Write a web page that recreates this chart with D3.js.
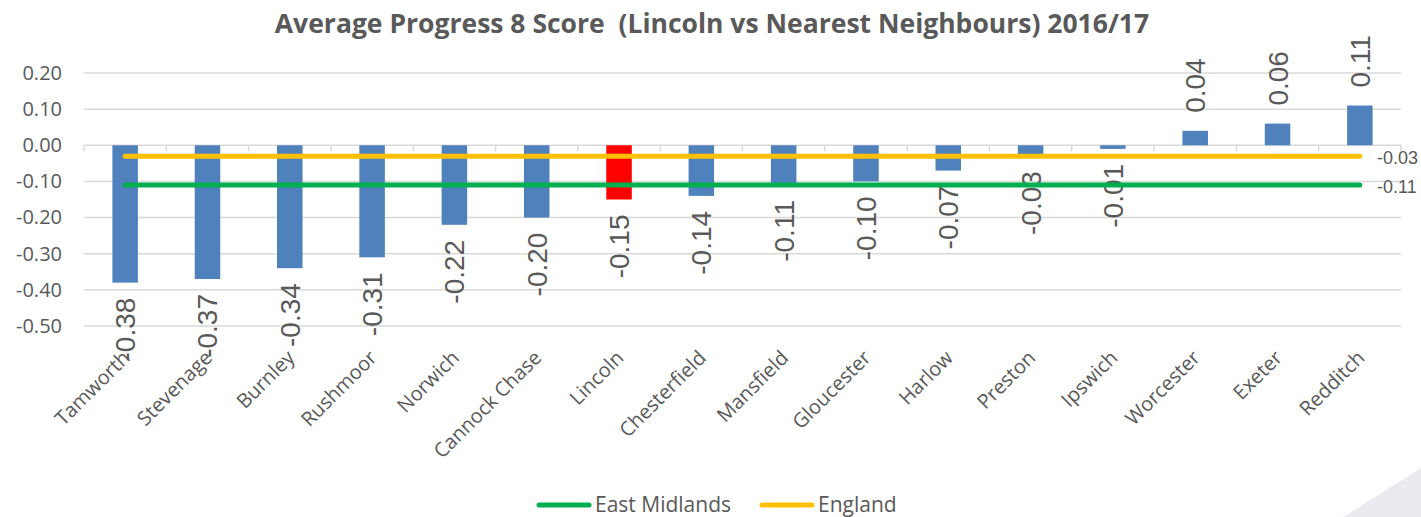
<!DOCTYPE html>
<html>
<head>
<meta charset="utf-8">
<script src="https://cdn.jsdelivr.net/npm/d3@7"></script>
<style>
  body { margin: 0; background: #fff; }
  text { font-family: "Open Sans", sans-serif; }
</style>
</head>
<body>
<div id="chart"></div>
<script>
const areas = ["Tamworth", "Stevenage", "Burnley", "Rushmoor", "Norwich", "Cannock Chase", "Lincoln",
  "Chesterfield", "Mansfield", "Gloucester", "Harlow", "Preston", "Ipswich", "Worcester", "Exeter", "Redditch"];
const scores = [-0.38, -0.37, -0.34, -0.31, -0.22, -0.20, -0.15, -0.14, -0.11, -0.10, -0.07, -0.03, -0.01, 0.04, 0.06, 0.11];
const eastMidlands = -0.11;
const england = -0.03;
const yTicks = [0.2, 0.1, 0, -0.1, -0.2, -0.3, -0.4, -0.5];
const highlight = "Lincoln";

const width = 1421, height = 517;
const fmt = v => d3.format(".2f")(v).replace("−", "-");

const svg = d3.select("#chart").append("svg")
  .attr("width", width)
  .attr("height", height);

// slide corner decoration
svg.append("polygon")
  .attr("points", `${width},468 ${width},${height} 1343,${height}`)
  .attr("fill", "#ebebef");

const x = d3.scaleBand().domain(areas).range([84, 1401]);
const y = d3.scaleLinear().domain([-0.5, 0.2]).range([326, 73]);

svg.append("text")
  .attr("x", 712)
  .attr("y", 33)
  .attr("text-anchor", "middle")
  .style("font-size", "26.5px")
  .style("font-weight", "bold")
  .style("fill", "#595959")
  .style("white-space", "pre")
  .text("Average Progress 8 Score  (Lincoln vs Nearest Neighbours) 2016/17");

// gridlines
svg.append("g")
  .selectAll("line")
  .data(yTicks)
  .join("line")
  .attr("x1", 84).attr("x2", 1401)
  .attr("y1", d => y(d)).attr("y2", d => y(d))
  .attr("stroke", "#d9d9d9")
  .attr("stroke-width", 1.5);

const yAxis = svg.append("g")
  .attr("transform", `translate(62,0)`)
  .call(d3.axisLeft(y).tickValues(yTicks).tickFormat(fmt).tickSize(0).tickPadding(0));
yAxis.select(".domain").remove();
yAxis.selectAll("text")
  .style("font-size", "20px")
  .style("fill", "#595959")
  .style("font-family", "Open Sans, sans-serif");

// category ticks along zero line
const bounds = areas.map(a => x(a)).concat([x.range()[1]]);
svg.append("g")
  .selectAll("line")
  .data(bounds)
  .join("line")
  .attr("x1", d => d).attr("x2", d => d)
  .attr("y1", y(0)).attr("y2", y(0) + 6)
  .attr("stroke", "#d9d9d9")
  .attr("stroke-width", 1.5);

const barW = x.bandwidth() * 0.31;

svg.append("g")
  .selectAll("rect")
  .data(areas)
  .join("rect")
  .attr("x", d => x(d) + x.bandwidth() / 2 - barW / 2)
  .attr("y", (d, i) => y(Math.max(0, scores[i])))
  .attr("width", barW)
  .attr("height", (d, i) => Math.abs(y(scores[i]) - y(0)))
  .attr("fill", d => d === highlight ? "#ff0000" : "#4f81bd");

// value labels
svg.append("g")
  .selectAll("text")
  .data(areas)
  .join("text")
  .attr("transform", (d, i) => {
    const cx = x(d) + x.bandwidth() / 2 + 10;
    const v = scores[i];
    const yy = v < 0 ? y(v) + 15 : y(v) - 18;
    return `translate(${cx},${yy}) rotate(-90)`;
  })
  .attr("text-anchor", (d, i) => scores[i] < 0 ? "end" : "start")
  .style("font-family", "Liberation Sans, Arial, sans-serif")
  .style("font-size", "28px")
  .style("fill", "#595959")
  .text((d, i) => fmt(scores[i]));

// reference lines
const refs = [
  { name: "East Midlands", value: eastMidlands, color: "#00b050" },
  { name: "England", value: england, color: "#ffc000" }
];
const x0 = x(areas[0]) + x.bandwidth() / 2;
const x1 = x(areas[areas.length - 1]) + x.bandwidth() / 2;

svg.append("g")
  .selectAll("line")
  .data(refs)
  .join("line")
  .attr("x1", x0).attr("x2", x1)
  .attr("y1", d => y(d.value)).attr("y2", d => y(d.value))
  .attr("stroke", d => d.color)
  .attr("stroke-width", 5)
  .attr("stroke-linecap", "round");

svg.append("g")
  .selectAll("text")
  .data(refs)
  .join("text")
  .attr("x", 1377)
  .attr("y", d => y(d.value) + 8)
  .style("font-family", "Liberation Sans, Arial, sans-serif")
  .style("font-size", "18px")
  .style("fill", "#595959")
  .text(d => fmt(d.value));

// category labels
svg.append("g")
  .selectAll("text")
  .data(areas)
  .join("text")
  .attr("transform", d => `translate(${x(d) + x.bandwidth() / 2 + 6},${y(-0.5) + 33}) rotate(-45)`)
  .attr("text-anchor", "end")
  .style("font-size", "20px")
  .style("fill", "#595959")
  .text(d => d);

// legend
const legendX = [537, 760];
const legend = svg.append("g")
  .selectAll("g")
  .data(refs)
  .join("g")
  .attr("transform", (d, i) => `translate(${legendX[i]},505)`);
legend.append("line")
  .attr("x1", 2).attr("x2", 52)
  .attr("stroke", d => d.color)
  .attr("stroke-width", 5)
  .attr("stroke-linecap", "round");
legend.append("text")
  .attr("x", 58)
  .attr("y", 7)
  .style("font-size", "21px")
  .style("fill", "#595959")
  .text(d => d.name);
</script>
</body>
</html>
